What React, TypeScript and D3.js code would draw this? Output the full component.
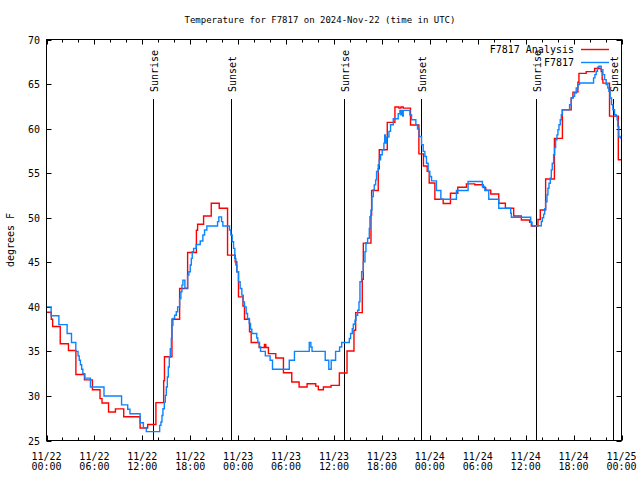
import * as d3 from "d3";

// hours after 2024-11-22 00:00 UTC, temperature in F
const analysisSteps: [number, number][] = [
  [0, 39.4], [0.6, 38.6], [0.77, 37.8], [1.72, 35.85], [2.75, 35.1], [3.68, 32.4],
  [4.75, 31.8], [5.75, 30.7], [6.7, 29.7], [6.95, 29.2], [7.77, 28.2], [8.63, 28.55],
  [9.67, 27.67], [11.72, 26.4], [12.67, 26.8], [13.7, 29.25], [14.67, 31.7], [14.77, 34.4],
  [15.71, 38.6], [16.67, 42.05], [17.67, 46.1], [18.77, 48.6], [18.92, 49.26], [19.67, 50.2],
  [20.63, 51.63], [21.63, 51.07], [22.67, 45.8], [23.63, 45.06], [23.83, 43.94], [24.04, 41.12],
  [24.6, 40.1], [24.79, 38.6], [25.42, 37.2], [25.63, 36.0], [26.63, 35.43], [27.29, 35.77],
  [27.46, 35.43], [27.79, 34.75], [28.71, 34.26], [29.67, 32.6], [30.71, 31.56], [31.63, 31.0],
  [32.63, 31.37], [33.71, 31.1], [34.04, 30.69], [34.67, 31.0], [35.63, 31.19], [36.67, 32.57],
  [37.63, 35.05], [38.5, 37.37], [38.71, 39.35], [39.54, 43.1], [39.67, 47.15], [40.63, 50.3],
  [40.71, 53.05], [41.54, 55.5], [41.67, 57.62], [42.67, 60.7], [43.63, 62.42], [44.13, 62.3],
  [44.38, 62.42], [44.67, 62.3], [45.58, 60.4], [46.63, 57.17], [47.2, 55.8], [47.67, 55.2],
  [47.92, 53.9], [48.63, 52.08], [49.67, 51.6], [50.58, 52.75], [51.5, 53.42], [52.58, 53.8],
  [53.63, 53.7], [54.67, 53.38], [55.0, 53.1], [55.63, 52.67], [56.63, 51.63], [57.46, 51.06],
  [58.5, 50.2], [59.46, 49.75], [60.5, 49.5], [60.71, 49.07], [61.54, 49.8], [61.83, 50.87],
  [62.5, 54.35], [63.6, 58.9], [64.6, 62.1], [65.7, 63.45], [65.92, 64.1], [66.54, 65.2],
  [66.67, 66.2], [67.58, 66.4], [68.63, 66.75], [69.46, 66.4], [69.58, 65.5], [69.67, 65.1],
  [70.5, 61.4], [71.6, 56.5], [72, 56.5],
];

const stationSteps: [number, number][] = [
  [0, 40.0], [0.58, 39.0], [1.55, 38.0], [2.58, 37.0], [3.13, 36.0], [3.67, 35.0],
  [3.95, 34.5], [4.1, 34.0], [4.25, 33.5], [4.4, 33.0], [4.55, 32.5], [4.8, 32.0],
  [5.5, 31.0], [7.2, 30.0], [9.4, 29.0], [10.17, 28.5], [10.45, 28.0], [11.72, 27.0],
  [12.13, 26.45], [12.5, 26.0], [14.17, 26.7], [14.33, 27.07], [14.46, 27.81], [14.58, 28.56],
  [14.75, 29.31], [14.88, 30.06], [15.0, 31.0], [15.13, 32.12], [15.25, 33.25], [15.38, 34.37],
  [15.5, 35.31], [15.63, 36.44], [15.71, 37.94], [15.83, 38.69], [16.04, 39.06], [16.25, 39.44],
  [16.42, 40.0], [16.67, 40.94], [16.83, 41.69], [16.96, 42.44], [17.08, 43.0], [17.33, 42.1],
  [17.67, 43.56], [17.83, 43.94], [18.0, 44.69], [18.13, 45.44], [18.25, 46.19], [18.42, 46.56],
  [18.75, 47.0], [19.25, 47.38], [19.58, 48.06], [19.79, 48.62], [20.08, 49.07], [21.42, 49.56],
  [21.58, 50.09], [21.92, 49.56], [22.08, 49.07], [22.92, 48.62], [23.08, 48.06], [23.25, 47.31],
  [23.42, 46.56], [23.58, 45.44], [23.71, 44.69], [23.83, 43.94], [24.04, 42.81], [24.25, 42.06],
  [24.46, 41.31], [24.63, 40.56], [24.79, 40.0], [25.0, 39.25], [25.17, 38.69], [25.38, 38.13],
  [25.55, 37.5], [25.71, 37.0], [26.33, 36.5], [26.46, 36.0], [26.67, 35.5], [26.8, 35.0],
  [27.4, 34.5], [28.0, 34.0], [28.3, 33.0], [30.4, 34.0], [31.05, 35.0], [32.9, 36.0],
  [33.1, 35.5], [33.25, 35.0], [34.9, 34.0], [35.35, 33.0], [35.65, 34.0], [36.2, 35.0],
  [36.7, 35.5], [36.96, 36.0], [37.92, 36.44], [38.08, 37.0], [38.29, 37.56], [38.42, 38.05],
  [38.63, 38.5], [38.75, 39.06], [38.96, 39.62], [39.13, 40.56], [39.25, 42.81], [39.46, 43.94],
  [39.67, 45.06], [39.88, 46.19], [40.0, 47.2], [40.21, 47.69], [40.42, 48.81], [40.5, 50.12],
  [40.63, 50.87], [40.75, 52.37], [40.92, 53.12], [41.04, 53.69], [41.21, 54.25], [41.33, 55.19],
  [41.54, 55.94], [41.67, 56.5], [41.83, 57.06], [42.04, 57.62], [42.25, 58.37], [42.35, 59.3],
  [42.42, 58.37], [42.58, 59.05], [42.88, 59.69], [43.08, 60.44], [43.42, 61.11], [44.04, 61.67],
  [44.25, 62.05], [44.38, 61.56], [44.5, 62.05], [44.6, 61.4], [44.67, 62.05], [45.5, 61.56],
  [45.71, 61.0], [46.25, 60.44], [46.46, 59.95], [46.67, 59.12], [46.96, 58.19], [47.17, 57.44],
  [47.38, 56.87], [47.58, 56.12], [47.79, 55.19], [48.0, 54.62], [48.21, 54.14], [48.83, 53.05],
  [49.38, 52.08], [51.33, 53.05], [52.79, 54.06], [54.58, 53.5], [54.88, 53.05], [55.38, 52.08],
  [56.63, 51.06], [58.13, 50.5], [58.21, 50.05], [60.63, 49.5], [60.8, 49.1], [61.96, 49.56],
  [62.08, 50.0], [62.25, 50.4], [62.38, 51.0], [62.5, 51.8], [62.67, 52.56], [62.79, 53.3],
  [62.92, 53.87], [63.08, 54.44], [63.21, 55.37], [63.33, 56.12], [63.5, 57.06], [63.63, 57.88],
  [63.75, 58.75], [63.92, 59.3], [64.04, 59.87], [64.17, 60.44], [64.33, 61.0], [64.46, 61.56],
  [64.58, 62.12], [65.5, 62.69], [65.71, 63.44], [65.92, 63.62], [66.13, 64.0], [66.33, 64.56],
  [66.54, 64.94], [66.75, 65.12], [68.5, 65.69], [68.67, 66.06], [68.83, 66.44], [69.0, 66.88],
  [69.17, 67.0], [69.46, 66.62], [69.67, 66.06], [69.88, 65.5], [70.08, 64.94], [70.29, 64.56],
  [70.42, 64.19], [70.58, 63.44], [70.75, 62.69], [70.92, 62.12], [71.13, 61.56], [71.33, 61.37],
  [71.46, 61.0], [71.54, 60.25], [71.67, 59.12], [71.83, 58.94], [72, 58.94],
];

const sunLabels = ["Sunrise", "Sunset", "Sunrise", "Sunset", "Sunrise", "Sunset"];
const sunHours = [13.29, 23.04, 37.29, 46.91, 61.29, 70.96];

const yTicks = [25, 30, 35, 40, 45, 50, 55, 60, 65, 70];
const seriesNames = ["F7817 Analysis", "F7817"];
const seriesColors = ["#ff0000", "#0a84ff"];

const START = Date.UTC(2024, 10, 22);
const END = Date.UTC(2024, 10, 25);
const FONT = "'DejaVu Sans Mono', monospace";

const toDate = (h: number) => new Date(START + h * 3600 * 1000);

export default function App() {
  const W = 640;
  const H = 480;
  const left = 46.5;
  const right = 621.5;
  const top = 39.5;
  const bottom = 440.5;

  const x = d3.scaleUtc().domain([new Date(START), new Date(END)]).range([left, right]);
  const y = d3.scaleLinear().domain([25, 70]).range([bottom, top]);

  const majorTicks = x.ticks(d3.utcHour.every(6)!);
  const minorTicks = x.ticks(d3.utcHour.every(2)!).filter((d) => d.getUTCHours() % 6 !== 0);
  const fmtDay = d3.utcFormat("%m/%d");
  const fmtTime = d3.utcFormat("%H:%M");

  const line = d3
    .line<[number, number]>()
    .x((d) => x(toDate(d[0])))
    .y((d) => y(d[1]))
    .curve(d3.curveStepAfter);

  const series = [analysisSteps, stationSteps];

  return (
    <svg
      width={W}
      height={H}
      style={{ position: "absolute", left: 0, top: 0, background: "#fff" }}
      fontFamily={FONT}
      fontSize={10}
    >
      <rect x={0} y={0} width={W} height={H} fill="#fff" />
      <text x={320} y={23} textAnchor="middle" fill="#000" fontSize={9}>
        Temperature for F7817 on 2024-Nov-22 (time in UTC)
      </text>

      {/* y ticks and labels */}
      {yTicks.map((t) => (
        <g key={"y" + t}>
          <line x1={left} x2={left + 5} y1={Math.round(y(t)) + 0.5} y2={Math.round(y(t)) + 0.5} stroke="#000" />
          <line x1={right - 5} x2={right} y1={Math.round(y(t)) + 0.5} y2={Math.round(y(t)) + 0.5} stroke="#000" />
          <text x={40} y={y(t) + 4} textAnchor="end" fill="#000">
            {t}
          </text>
        </g>
      ))}

      {/* x ticks */}
      {majorTicks.map((d, i) => {
        const px = Math.round(x(d)) + 0.5;
        return (
          <g key={"xm" + i}>
            <line x1={px} x2={px} y1={bottom} y2={bottom - 5} stroke="#000" />
            <line x1={px} x2={px} y1={top} y2={top + 5} stroke="#000" />
            <text x={x(d)} y={460} textAnchor="middle" fill="#000">
              {fmtDay(d)}
            </text>
            <text x={x(d)} y={470} textAnchor="middle" fill="#000">
              {fmtTime(d)}
            </text>
          </g>
        );
      })}
      {minorTicks.map((d, i) => {
        const px = Math.round(x(d)) + 0.5;
        return (
          <g key={"xn" + i}>
            <line x1={px} x2={px} y1={bottom} y2={bottom - 3} stroke="#000" />
            <line x1={px} x2={px} y1={top} y2={top + 3} stroke="#000" />
          </g>
        );
      })}

      <text transform={`translate(14,240) rotate(-90)`} textAnchor="middle" fill="#000">
        degrees F
      </text>

      {/* sunrise / sunset markers */}
      {sunHours.map((h, i) => {
        const px = Math.round(x(toDate(h))) + 0.5;
        return (
          <g key={"s" + i}>
            <line x1={px} x2={px} y1={99} y2={bottom} stroke="#000" />
            <text transform={`translate(${px + 4.5},92) rotate(-90)`} fill="#000">
              {sunLabels[i]}
            </text>
          </g>
        );
      })}

      {series.map((s, i) => (
        <path key={"p" + i} d={line(s) || ""} fill="none" stroke={seriesColors[i]} strokeWidth={1.4} />
      ))}

      {/* legend */}
      {seriesNames.map((n, i) => (
        <g key={"l" + i}>
          <text x={574} y={53 + i * 13} textAnchor="end" fill="#000">
            {n}
          </text>
          <line x1={581} x2={609} y1={49.5 + i * 13} y2={49.5 + i * 13} stroke={seriesColors[i]} strokeWidth={1.4} />
        </g>
      ))}

      <rect x={left} y={top} width={right - left} height={bottom - top} fill="none" stroke="#000" />
    </svg>
  );
}
